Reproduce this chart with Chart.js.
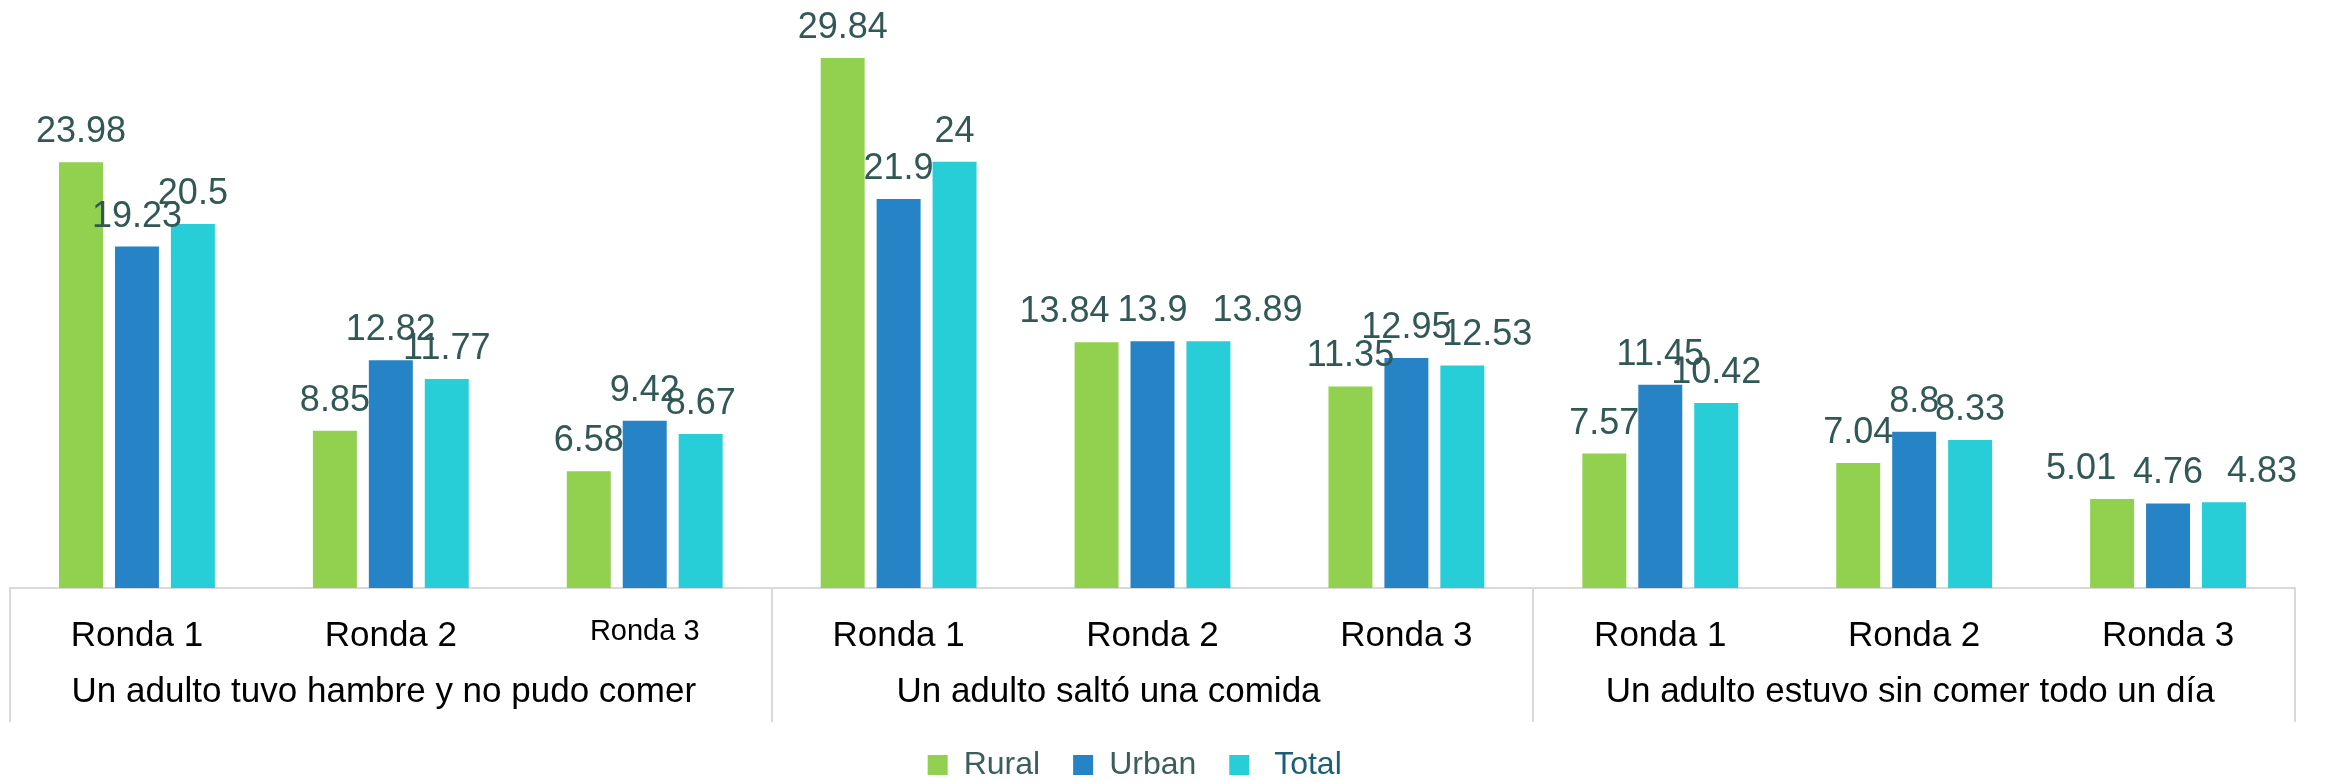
<!DOCTYPE html>
<html>
<head>
<meta charset="utf-8">
<script src="https://cdn.jsdelivr.net/npm/chart.js@4.4.1/dist/chart.umd.min.js"></script>
<style>
  html, body { margin:0; padding:0; background:#fff; }
  #wrap { width:2330px; height:782px; }
</style>
</head>
<body>
<div id="wrap"><canvas id="chart"></canvas></div>
<script>
// ===== DATA =====
const rondas = ['Ronda 1','Ronda 2','Ronda 3','Ronda 1','Ronda 2','Ronda 3','Ronda 1','Ronda 2','Ronda 3'];
const grupos = [
  'Un adulto tuvo hambre y no pudo comer',
  'Un adulto saltó una comida',
  'Un adulto estuvo sin comer todo un día'
];
const rural = [23.98, 8.85, 6.58, 29.84, 13.84, 11.35, 7.57, 7.04, 5.01];
const urban = [19.23, 12.82, 9.42, 21.9, 13.9, 12.95, 11.45, 8.8, 4.76];
const total = [20.5, 11.77, 8.67, 24, 13.89, 12.53, 10.42, 8.33, 4.83];

const FONT = "'Liberation Sans', Arial, sans-serif";
const LABEL_COLOR = '#325856';

// labels that were pushed sideways in the original (dataset-index : px)
const labelShift = { '0-4': -32, '2-4': 49, '2-5': 25, '0-8': -31, '2-8': 38 };
const groupShift = [-7, -44, -4];

// ===== PLUGIN: value labels =====
const valueLabels = {
  id: 'valueLabels',
  afterDatasetsDraw(chart){
    const ctx = chart.ctx;
    ctx.save();
    ctx.font = '36px ' + FONT;
    ctx.fillStyle = LABEL_COLOR;
    ctx.textAlign = 'center';
    ctx.textBaseline = 'alphabetic';
    chart.data.datasets.forEach((ds, di) => {
      const meta = chart.getDatasetMeta(di);
      meta.data.forEach((bar, i) => {
        const dx = labelShift[di + '-' + i] || 0;
        ctx.fillText(String(ds.data[i]), bar.x + dx, bar.y - 20);
      });
    });
    ctx.restore();
  }
};

// ===== PLUGIN: group axis (dividers + group names) =====
const groupAxis = {
  id: 'groupAxis',
  afterDraw(chart){
    const ctx = chart.ctx;
    const x = chart.scales.x;
    const per = (x.right - x.left) / rondas.length;
    const top = chart.chartArea.bottom;
    ctx.save();
    ctx.strokeStyle = '#D9D9D9';
    ctx.lineWidth = 2;
    for (let g = 0; g <= grupos.length; g++){
      const px = Math.round(x.getPixelForValue(g * 3) - per / 2);
      ctx.beginPath();
      ctx.moveTo(px, top);
      ctx.lineTo(px, 722);
      ctx.stroke();
    }
    ctx.font = '35px ' + FONT;
    ctx.fillStyle = '#000';
    ctx.textAlign = 'center';
    ctx.textBaseline = 'alphabetic';
    grupos.forEach((g, i) => {
      const cx = x.getPixelForValue(i * 3 + 1);
      ctx.fillText(g, cx + groupShift[i], 702);
    });
    ctx.restore();
  }
};

// ===== CHART =====
const barOpts = { categoryPercentage: 0.661, barPercentage: 0.786, borderWidth: 0 };

new Chart(document.getElementById('chart'), {
  type: 'bar',
  data: {
    labels: rondas,
    datasets: [
      { label: 'Rural', data: rural, backgroundColor: '#92D050', ...barOpts },
      { label: 'Urban', data: urban, backgroundColor: '#2683C6', ...barOpts },
      { label: 'Total', data: total, backgroundColor: '#27CED7', ...barOpts }
    ]
  },
  options: {
    responsive: true,
    maintainAspectRatio: false,
    animation: false,
    devicePixelRatio: 1,
    layout: { padding: { left: 10, right: 35, top: 2, bottom: -9 } },
    plugins: {
      tooltip: { enabled: false },
      legend: {
        position: 'bottom',
        labels: {
          boxWidth: 20,
          boxHeight: 20,
          padding: 33,
          font: { family: FONT, size: 32 },
          generateLabels(chart){
            const cols = ['#3B5E5B', '#3B5E5B', '#1B5E78'];
            return chart.data.datasets.map((ds, i) => ({
              // leading space as in the original, trailing ones keep the row centred like it
              text: i === 2 ? ' ' + ds.label + '    ' : ds.label,
              fillStyle: ds.backgroundColor,
              strokeStyle: ds.backgroundColor,
              lineWidth: 0,
              fontColor: cols[i],
              datasetIndex: i,
              hidden: false
            }));
          }
        }
      }
    },
    scales: {
      x: {
        grid: { display: false },
        border: { display: true, color: '#D9D9D9', width: 2 },
        ticks: {
          color: '#000',
          padding: 19,
          maxRotation: 0,
          autoSkip: false,
          font: ctx => ({ family: FONT, size: ctx.index === 2 ? 29 : 35 })
        },
        afterFit: s => { s.height = 128; }
      },
      y: {
        display: false,
        min: 0,
        max: 33
      }
    }
  },
  plugins: [valueLabels, groupAxis]
});
</script>
</body>
</html>
